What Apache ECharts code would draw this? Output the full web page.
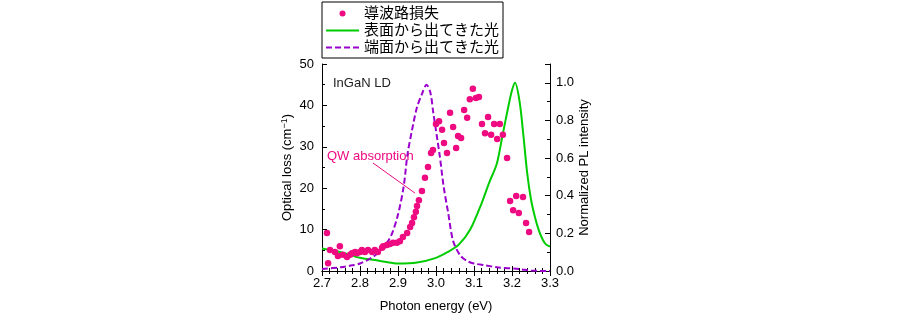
<!DOCTYPE html>
<html><head><meta charset="utf-8">
<script src="https://cdn.jsdelivr.net/npm/echarts@6/dist/echarts.min.js"></script>
<style>html,body{margin:0;padding:0;background:#fff}#c{width:900px;height:322px}</style>
</head><body><div id="c"></div>
<script>
const seriesNames = ['導波路損失', '表面から出てきた光', '端面から出てきた光'];
const lossE = [2.713,2.716,2.721,2.734,2.742,2.747,2.755,2.766,2.774,2.779,2.787,2.792,2.800,2.805,2.813,2.821,2.832,2.839,2.847,2.858,2.861,2.871,2.879,2.887,2.897,2.905,2.913,2.924,2.932,2.937,2.942,2.947,2.950,2.955,2.963,2.971,2.979,2.987,2.992,3.000,3.008,3.016,3.021,3.029,3.037,3.045,3.053,3.058,3.066,3.074,3.082,3.089,3.097,3.105,3.113,3.121,3.129,3.137,3.145,3.153,3.161,3.168,3.176,3.187,3.195,3.203,3.211,3.218,3.229,3.237,3.245];
const lossV = [9.2,1.9,5.1,4.6,3.6,6.0,3.9,3.4,3.9,4.3,4.6,4.3,4.6,5.1,4.6,5.1,4.6,5.1,4.6,5.6,6.0,6.3,6.5,6.8,6.8,7.2,8.2,9.2,10.6,11.6,13.0,14.3,15.7,17.1,19.3,22.5,25.1,28.5,29.2,35.5,36.2,34.1,30.9,28.5,38.2,34.8,29.7,32.6,32.1,38.9,37.0,41.5,44.0,41.8,42.0,35.5,33.3,37.2,32.9,35.5,31.9,35.5,32.9,27.3,16.9,14.7,18.1,14.0,17.9,11.6,9.4];
const surfE = [2.70,2.75,2.80,2.85,2.90,2.95,3.00,3.03,3.06,3.09,3.12,3.14,3.16,3.175,3.19,3.20,3.208,3.22,3.23,3.24,3.25,3.26,3.27,3.28,3.29,3.30];
const surfI = [0.12,0.10,0.07,0.055,0.04,0.045,0.07,0.10,0.14,0.22,0.36,0.47,0.57,0.72,0.87,0.96,1.00,0.90,0.72,0.52,0.38,0.29,0.22,0.17,0.14,0.13];
const edgeE = [2.70,2.75,2.78,2.80,2.83,2.85,2.88,2.90,2.915,2.925,2.94,2.95,2.963,2.975,2.985,2.993,3.01,3.02,3.032,3.045,3.063,3.08,3.10,3.13,3.16,3.22,3.25,3.30];
const edgeI = [0.01,0.02,0.03,0.04,0.07,0.10,0.18,0.30,0.45,0.62,0.78,0.87,0.94,0.99,0.95,0.84,0.61,0.45,0.31,0.16,0.085,0.055,0.04,0.03,0.02,0.01,0.002,0.0];
const arrowFrom = [2.834, 26.1], arrowTo = [2.945, 18.8];

const FONT = 'Liberation Sans, Arial, "Noto Sans CJK JP", sans-serif';
const pink = '#EE0A80', green = '#00CC00', purple = '#9900CC';
const zip = (a, b) => a.map((v, i) => [v, b[i]]);
const chart = echarts.init(document.getElementById('c'));
const axisLine = {show: true, lineStyle: {color: '#000', width: 1}};
chart.setOption({
  animation: false,
  textStyle: {fontFamily: FONT},
  grid: {left: 322, right: 350, top: 64, bottom: 51},
  legend: {
    orient: 'vertical', left: 322, top: 2, itemWidth: 33, itemHeight: 6, itemGap: 2,
    padding: [4, 4, 3, 3], borderColor: '#000', borderWidth: 1, backgroundColor: '#fff',
    textStyle: {fontSize: 15, color: '#000', fontFamily: FONT},
    data: [
      {name: seriesNames[0], icon: 'circle'},
      {name: seriesNames[1], itemStyle: {opacity: 0}},
      {name: seriesNames[2], itemStyle: {opacity: 0}}
    ]
  },
  xAxis: [{
    type: 'value', min: 2.7, max: 3.3, interval: 0.1, position: 'bottom',
    axisLine: axisLine, splitLine: {show: false},
    axisTick: {inside: true, length: 5, lineStyle: {color: '#000'}},
    minorTick: {show: true, splitNumber: 5, length: 3, lineStyle: {color: '#000'}},
    axisLabel: {color: '#000', fontSize: 13, margin: 6, formatter: v => v.toFixed(1)},
    name: 'Photon energy (eV)', nameLocation: 'middle', nameGap: 29,
    nameTextStyle: {color: '#000', fontSize: 13}
  }, {
    type: 'value', min: 2.7, max: 3.3, interval: 0.1, position: 'top',
    axisLine: axisLine, splitLine: {show: false},
    axisTick: {inside: true, length: 5, lineStyle: {color: '#000'}},
    minorTick: {show: true, splitNumber: 5, length: 3, lineStyle: {color: '#000'}},
    axisLabel: {show: false}
  }],
  yAxis: [{
    type: 'value', min: 0, max: 50, interval: 10, position: 'left',
    axisLine: axisLine, splitLine: {show: false},
    axisTick: {inside: true, length: 5, lineStyle: {color: '#000'}},
    minorTick: {show: true, splitNumber: 2, length: 3, lineStyle: {color: '#000'}},
    axisLabel: {color: '#000', fontSize: 13, margin: 8},
    name: '{a|Optical loss (cm}{s|−1}{a|)}', nameLocation: 'middle', nameGap: 27, nameRotate: 90,
    nameTextStyle: {color: '#000', fontSize: 13, rich: {a: {fontSize: 13, color: '#000'}, s: {fontSize: 9, color: '#000', verticalAlign: 'top', padding: [0, 0, 6, 0]}}}
  }, {
    type: 'value', min: 0, max: 1.1, interval: 0.2, position: 'right',
    axisLine: axisLine, splitLine: {show: false},
    axisTick: {inside: true, length: 5, lineStyle: {color: '#000'}},
    minorTick: {show: true, splitNumber: 2, length: 3, lineStyle: {color: '#000'}},
    axisLabel: {color: '#000', fontSize: 13, margin: 6, showMaxLabel: false, formatter: v => v.toFixed(1)},
    name: 'Normalized PL intensity', nameLocation: 'middle', nameGap: 28, nameRotate: 90,
    nameTextStyle: {color: '#000', fontSize: 13}
  }],
  series: [{
    name: seriesNames[0], type: 'scatter', xAxisIndex: 0, yAxisIndex: 0,
    data: zip(lossE, lossV), symbol: 'circle', symbolSize: 6.5, itemStyle: {color: pink, opacity: 1}, z: 5,
    markLine: {silent: true, symbol: ['none', 'none'], lineStyle: {color: pink, width: 1, type: 'solid'}, label: {show: false},
      data: [[{coord: arrowFrom}, {coord: arrowTo}]]}
  }, {
    name: seriesNames[1], type: 'line', xAxisIndex: 0, yAxisIndex: 1, data: zip(surfE, surfI),
    symbol: 'none', smooth: 0.3, lineStyle: {color: green, width: 2}, itemStyle: {color: green}
  }, {
    name: seriesNames[2], type: 'line', xAxisIndex: 0, yAxisIndex: 1, data: zip(edgeE, edgeI),
    symbol: 'none', smooth: 0.3, lineStyle: {color: purple, width: 2, type: [6, 3]}, itemStyle: {color: purple}
  }],
  graphic: [
    {type: 'text', left: 333, top: 77, style: {text: 'InGaN LD', fontSize: 13, fill: '#222', fontFamily: FONT}},
    {type: 'text', left: 327, top: 150, style: {text: 'QW absorption', fontSize: 13, fill: pink, fontFamily: FONT}}
  ]
});
</script></body></html>
